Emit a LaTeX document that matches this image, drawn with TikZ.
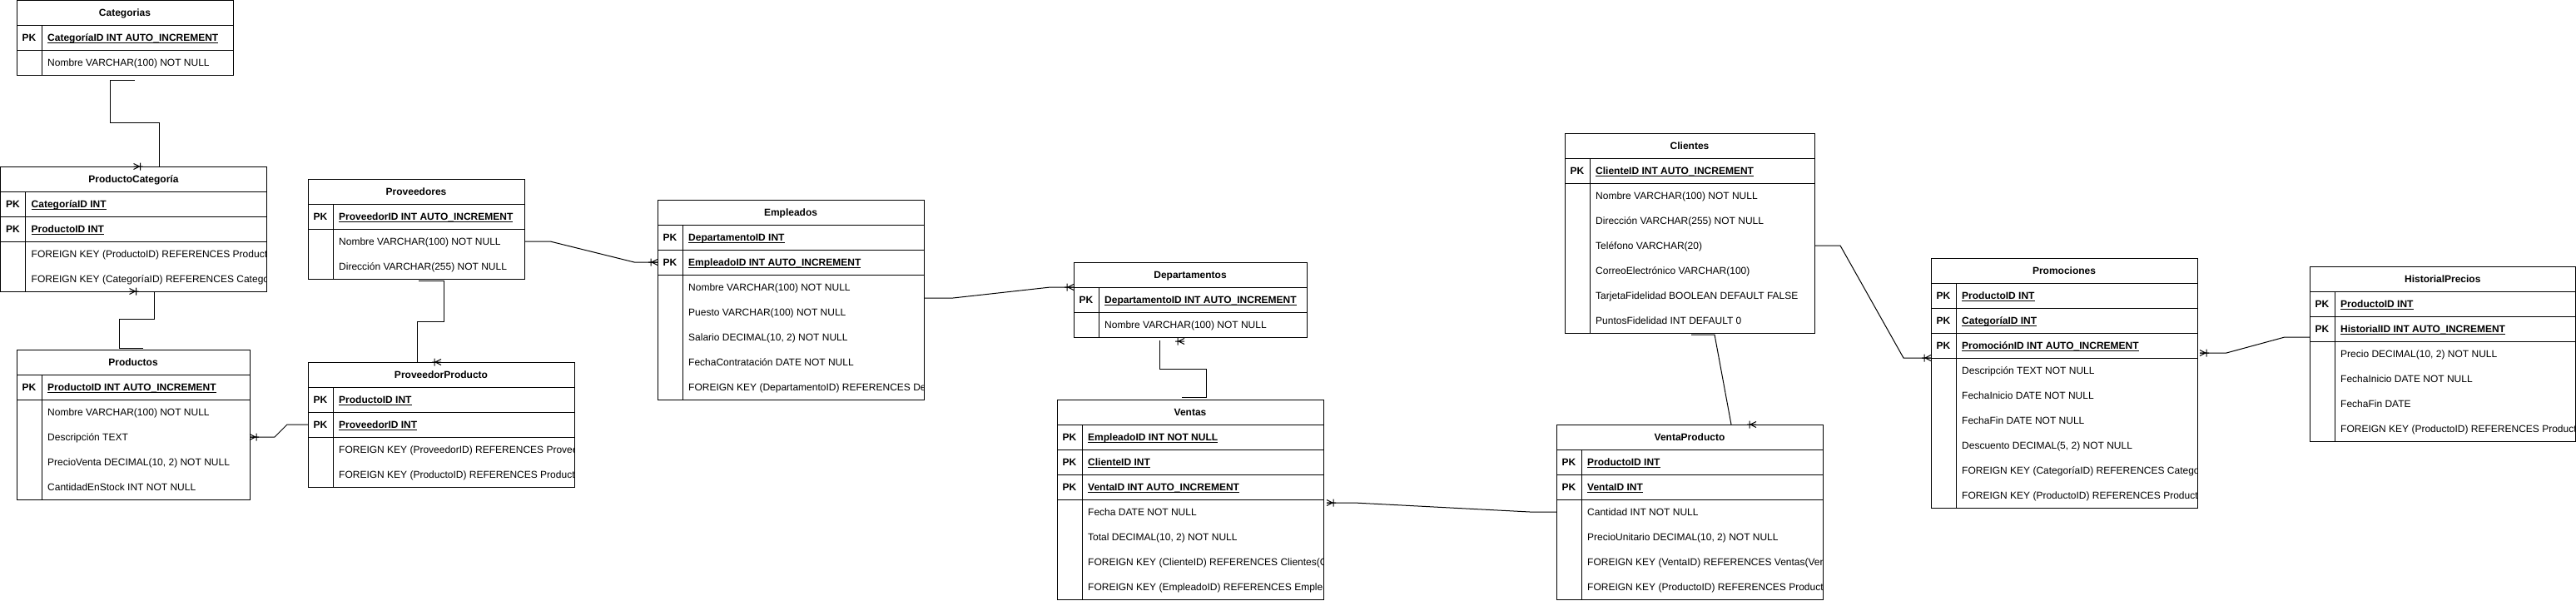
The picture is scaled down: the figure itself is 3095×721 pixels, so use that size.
\documentclass[tikz,border=0pt]{standalone}
\usepackage{fontspec}
\setmainfont{Liberation Sans}
\usetikzlibrary{calc}
\newsavebox\pkbox
\newcommand\pkul[1]{\sbox\pkbox{\ignorespaces#1}\rlap{\rule[-2.4pt]{\wd\pkbox}{0.9pt}}\usebox\pkbox}
\tikzset{
  tablebox/.style={draw=black, line width=1pt, rectangle, inner sep=0pt, outer sep=0pt},
  headrow/.style={draw=black, line width=1pt, rectangle, inner sep=0pt, outer sep=0pt, minimum height=30,
    font=\fontsize{12}{14}\selectfont\bfseries, text height=8.6pt, text depth=0pt},
  pkrow/.style={draw=black, line width=1pt, rectangle, inner sep=0pt, outer sep=0pt, minimum height=30},
  pklabel/.style={inner sep=0pt, font=\fontsize{12}{14}\selectfont\bfseries, text height=8.6pt, text depth=0pt},
  pkfield/.style={pklabel, anchor=west},
  attrtext/.style={inner sep=0pt, anchor=west, font=\fontsize{12}{14}\selectfont, text height=8.6pt, text depth=0pt},
  rel/.style={draw=black, line width=1pt},
  crowl/.pic={\draw[line width=1pt] (0,-3.5) -- (7,0) -- (0,3.5) (8,-4.5) -- (8,4.5) (0,0) -- (11,0);},
  crowr/.pic={\draw[line width=1pt] (0,-3.5) -- (-7,0) -- (0,3.5) (-8,-4.5) -- (-8,4.5) (0,0) -- (-11,0);}
}
% table: name, x, y, width, title, primary keys, attributes
\newcommand\ertable[7]{%
  \foreach \f [count=\nrow] in {#6} {\xdef\npk{\nrow}}%
  \foreach \f [count=\nrow] in {#7} {\xdef\nat{\nrow}}%
  \pgfmathsetmacro\tabh{30*(1+\npk+\nat)}%
  \node[tablebox, minimum width=#4, minimum height=\tabh, anchor=north west] (#1) at (#2,#3) {};
  \begin{scope}
    \clip (#1.north west) rectangle (#1.south east);
    \node[headrow, minimum width=#4, anchor=north] (#1-h) at (#1.north) {#5};
    \foreach \f [count=\i] in {#6} {
      \node[pkrow, minimum width=#4, anchor=north west] (#1-p\i) at ($(#1.north west)+(0,30*\i)$) {};
      \node[pklabel] at ($(#1-p\i.west)+(15,0)$) {PK};
      \node[pkfield] at ($(#1-p\i.west)+(37,0)$) {\pkul{\f}};
    }
    \foreach \f [count=\i] in {#7}
      \node[attrtext] (#1-a\i) at ($(#1.north west)+(37,30*\npk+30*\i+15)$) {\ignorespaces\f};
  \end{scope}
  \draw[line width=1pt] ([xshift=30]#1-h.south west) -- ([xshift=30]#1.south west);
}

\begin{document}
\begin{tikzpicture}[x=1pt, y=-1pt]
  \useasboundingbox (0,0) rectangle (3095,721);

  \ertable{cat}{20}{0.5}{260}{Categorias}{CategoríaID INT AUTO\_INCREMENT}{Nombre VARCHAR(100) NOT NULL}
  \ertable{pc}{0.5}{200}{320}{ProductoCategoría}{CategoríaID INT, ProductoID INT}{FOREIGN KEY (ProductoID) REFERENCES Productos(ProductoID), FOREIGN KEY (CategoríaID) REFERENCES Categorias(CategoríaID)}
  \ertable{prod}{20}{420}{280}{Productos}{ProductoID INT AUTO\_INCREMENT}{Nombre VARCHAR(100) NOT NULL, Descripción TEXT, {PrecioVenta DECIMAL(10, 2) NOT NULL}, CantidadEnStock INT NOT NULL}
  \ertable{prov}{370}{215}{260}{Proveedores}{ProveedorID INT AUTO\_INCREMENT}{Nombre VARCHAR(100) NOT NULL, Dirección VARCHAR(255) NOT NULL}
  \ertable{pp}{370}{435}{320}{ProveedorProducto}{ProductoID INT, ProveedorID INT}{FOREIGN KEY (ProveedorID) REFERENCES Proveedores(ProveedorID), FOREIGN KEY (ProductoID) REFERENCES Productos(ProductoID)}
  \ertable{emp}{790}{240}{320}{Empleados}{DepartamentoID INT, EmpleadoID INT AUTO\_INCREMENT}{Nombre VARCHAR(100) NOT NULL, Puesto VARCHAR(100) NOT NULL, {Salario DECIMAL(10, 2) NOT NULL}, FechaContratación DATE NOT NULL, FOREIGN KEY (DepartamentoID) REFERENCES Departamentos(DepartamentoID)}
  \ertable{dep}{1290}{315}{280}{Departamentos}{DepartamentoID INT AUTO\_INCREMENT}{Nombre VARCHAR(100) NOT NULL}
  \ertable{ven}{1270}{480}{320}{Ventas}{EmpleadoID INT NOT NULL, ClienteID INT, VentaID INT AUTO\_INCREMENT}{Fecha DATE NOT NULL, {Total DECIMAL(10, 2) NOT NULL}, FOREIGN KEY (ClienteID) REFERENCES Clientes(ClienteID), FOREIGN KEY (EmpleadoID) REFERENCES Empleados(EmpleadoID)}
  \ertable{cli}{1880}{160}{300}{Clientes}{ClienteID INT AUTO\_INCREMENT}{Nombre VARCHAR(100) NOT NULL, Dirección VARCHAR(255) NOT NULL, Teléfono VARCHAR(20), CorreoElectrónico VARCHAR(100), TarjetaFidelidad BOOLEAN DEFAULT FALSE, PuntosFidelidad INT DEFAULT 0}
  \ertable{vp}{1870}{510}{320}{VentaProducto}{ProductoID INT, VentaID INT}{Cantidad INT NOT NULL, {PrecioUnitario DECIMAL(10, 2) NOT NULL}, FOREIGN KEY (VentaID) REFERENCES Ventas(VentaID), FOREIGN KEY (ProductoID) REFERENCES Productos(ProductoID)}
  \ertable{promo}{2320}{310}{320}{Promociones}{ProductoID INT, CategoríaID INT, PromociónID INT AUTO\_INCREMENT}{Descripción TEXT NOT NULL, FechaInicio DATE NOT NULL, FechaFin DATE NOT NULL, {Descuento DECIMAL(5, 2) NOT NULL}, FOREIGN KEY (CategoríaID) REFERENCES Categorias(CategoríaID), FOREIGN KEY (ProductoID) REFERENCES Productos(ProductoID)}
  \ertable{hist}{2775}{320}{319.5}{HistorialPrecios}{ProductoID INT, HistorialID INT AUTO\_INCREMENT}{{Precio DECIMAL(10, 2) NOT NULL}, FechaInicio DATE NOT NULL, FechaFin DATE, FOREIGN KEY (ProductoID) REFERENCES Productos(ProductoID)}

  % relations
  \draw[rel] ([shift={(12,6)}]cat.south) -| (132,147) -| ([xshift=31]pc.north);
  \pic at (pc.north) {crowl};
  \draw[rel] (pc.south) -| (185,383) -| (143,418) -- ([shift={(12,-2)}]prod.north);
  \pic at ([xshift=-5]pc.south) {crowl};
  \draw[rel] (prod.east |- prod-a2) -- (330,525) -- (345,510) -- (pp.west |- pp-p2);
  \pic at (prod.east |- prod-a2) {crowl};
  \draw[rel] ([shift={(3,2)}]prov.south) -| (533,386) -| ([xshift=-29]pp.north);
  \pic at (pp.north) {crowr};
  \draw[rel] (prov.east |- prov-a1) -- (661,290) -- (762,315) -- (emp.west |- emp-p2);
  \pic at (emp.west |- emp-p2) {crowr};
  \draw[rel] ($(emp.east |- emp-a1)+(0,13)$) -- (1145,358) -- (1262,345) -- (dep-h.south west);
  \pic at (dep-h.south west) {crowr};
  \draw[rel] ([shift={(-37,4)}]dep.south) |- (1449,443) |- ([shift={(-10,-3)}]ven.north);
  \pic at ([shift={(-7,5)}]dep.south) {crowr};
  \draw[rel] ([shift={(4,4)}]ven-p3.south east) -- (1627,604) -- (1838,615) -- (vp.west |- vp-a1);
  \pic at ([shift={(4,4)}]ven-p3.south east) {crowl};
  \draw[rel] ([shift={(2,2)}]cli.south) -- (2060,402) -- ([xshift=50]vp.north);
  \pic at ([xshift=80]vp.north) {crowr};
  \draw[rel] (cli.east |- cli-a3) -- (2211,295) -- (2287,430) -- (promo-p3.south west);
  \pic at (promo-p3.south west) {crowr};
  \draw[rel] ([shift={(3,-6)}]promo-p3.south east) -- (2675,424) -- (2745,405) -- ([shift={(0,-5)}]hist-p2.south west);
  \pic at ([shift={(3,-6)}]promo-p3.south east) {crowl};
\end{tikzpicture}
\end{document}
